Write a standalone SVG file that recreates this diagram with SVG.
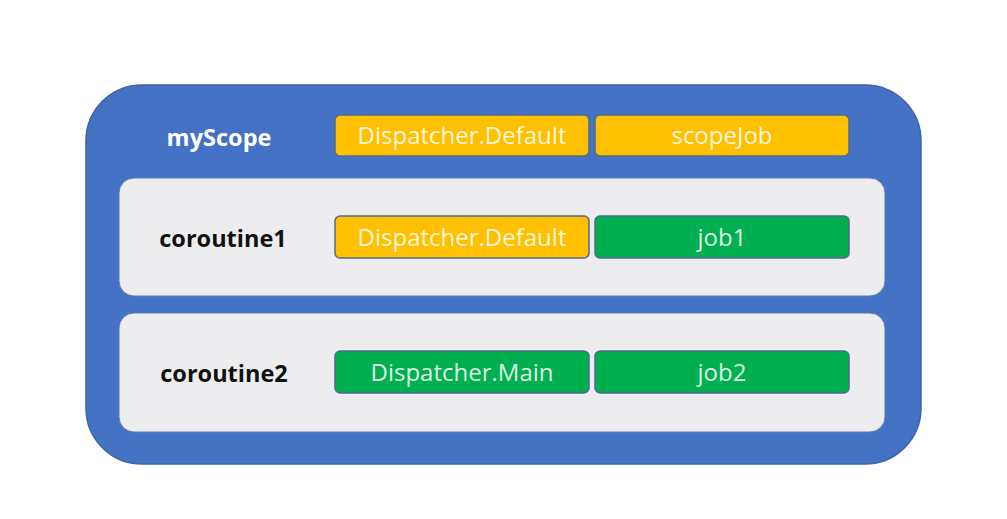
<svg xmlns="http://www.w3.org/2000/svg" width="1007" height="519" viewBox="0 0 1007 519">
<style>
.tag{stroke:#4F6A8F;stroke-width:1.5}
.y{fill:#FFC000}
.g{fill:#00B050}
.t{font-family:"Open Sans","Noto Sans",sans-serif;font-size:24px;text-anchor:middle;dominant-baseline:central}
.ty{fill:#FFF6DC}
.tg{fill:#DDF3E3}
.lbl{font-family:"Open Sans","Noto Sans",sans-serif;font-size:23.5px;font-weight:bold;text-anchor:middle;dominant-baseline:central}
.panel{fill:#EDEDEF;stroke:#5B7DB8;stroke-width:1}
</style>
<rect width="1007" height="519" fill="#FFFFFF"/>
<g id="myScope">
<rect x="86" y="85" width="835" height="379" rx="56" fill="#4472C4" stroke="#3F64A8" stroke-width="1.5"/>
<text class="lbl" x="219" y="137" fill="#FFFFFF">myScope</text>
<rect class="tag y" x="335" y="115" width="254" height="41" rx="5"/>
<text class="t ty" x="462" y="134">Dispatcher.Default</text>
<rect class="tag y" x="595" y="115" width="254" height="41" rx="5"/>
<text class="t ty" x="722" y="134">scopeJob</text>
</g>
<g id="coroutine1">
<rect class="panel" x="119" y="178" width="766" height="118" rx="15"/>
<text class="lbl" x="223" y="238" fill="#111111">coroutine1</text>
<rect class="tag y" x="335" y="216" width="254" height="42" rx="5"/>
<text class="t ty" x="462" y="236">Dispatcher.Default</text>
<rect class="tag g" x="595" y="216" width="254" height="42" rx="5"/>
<text class="t tg" x="722" y="236">job1</text>
</g>
<g id="coroutine2">
<rect class="panel" x="119" y="313" width="766" height="119" rx="15"/>
<text class="lbl" x="224" y="373" fill="#111111">coroutine2</text>
<rect class="tag g" x="335" y="351" width="254" height="42" rx="5"/>
<text class="t tg" x="462" y="371">Dispatcher.Main</text>
<rect class="tag g" x="595" y="351" width="254" height="42" rx="5"/>
<text class="t tg" x="722" y="371">job2</text>
</g>
<g id="connectors"/>
</svg>
